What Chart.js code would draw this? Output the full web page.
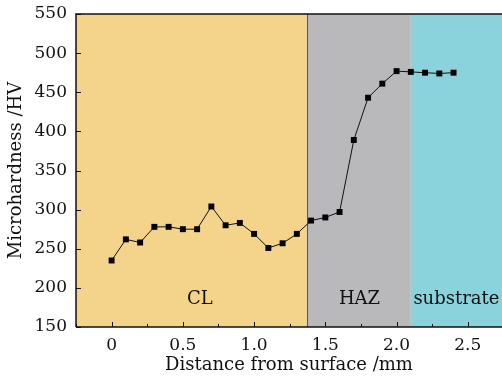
<!DOCTYPE html>
<html>
<head>
<meta charset="utf-8">
<script src="https://cdn.jsdelivr.net/npm/chart.js@4/dist/chart.umd.min.js"></script>
<style>
html,body{margin:0;padding:0;background:#fff;}
#wrap{width:502px;height:376px;position:relative;}
</style>
</head>
<body>
<div id="wrap"><canvas id="c" width="502" height="376"></canvas></div>
<script>
const distances = [0,0.1,0.2,0.3,0.4,0.5,0.6,0.7,0.8,0.9,1.0,1.1,1.2,1.3,1.4,1.5,1.6,1.7,1.8,1.9,2.0,2.1,2.2,2.3,2.4];
const hardness = [235,262,258,278,278,275,275,304,280,283,269,251,257,269,286,290,297,389,443,461,477,476,475,474,475];
const xTickValues = [0,0.5,1.0,1.5,2.0,2.5];
const xTickLabels = ['0','0.5','1.0','1.5','2.0','2.5'];
const xMinorTicks = [-0.25,0.25,0.75,1.25,1.75,2.25];
const yTickValues = [150,200,250,300,350,400,450,500,550];
const regionNames = ['CL','HAZ','substrate'];
const regionStarts = [-0.25,1.37,2.1];
const regionEnds = [1.37,2.1,2.74];
const regionColors = ['#F4D38B','#B9B9BB','#8BD3DC'];
const regionLabelX = [0.62,1.74,2.42];
const regionLabelY = 185;

const FONT = "'DejaVu Serif', serif";

const regionPlugin = {
  id:'regions',
  beforeDatasetsDraw(chart){
    const {ctx, chartArea:a, scales:{x,y}} = chart;
    ctx.save();
    for(let i=0;i<regionNames.length;i++){
      const x0 = x.getPixelForValue(regionStarts[i]);
      const x1 = x.getPixelForValue(regionEnds[i]);
      ctx.fillStyle = regionColors[i];
      ctx.fillRect(x0, a.top, x1-x0, a.bottom-a.top);
    }
    const xb = Math.round(x.getPixelForValue(regionStarts[1]))+0.5;
    ctx.strokeStyle = '#555';
    ctx.lineWidth = 1;
    ctx.beginPath(); ctx.moveTo(xb,a.top); ctx.lineTo(xb,a.bottom); ctx.stroke();
    ctx.fillStyle = '#111';
    ctx.font = "18px " + FONT;
    ctx.textAlign='center'; ctx.textBaseline='middle';
    for(let i=0;i<regionNames.length;i++){
      ctx.fillText(regionNames[i], x.getPixelForValue(regionLabelX[i]), y.getPixelForValue(regionLabelY));
    }
    ctx.restore();
  },
  afterDraw(chart){
    const {ctx, chartArea:a, scales:{x,y}} = chart;
    ctx.save();
    ctx.strokeStyle='#111'; ctx.lineWidth=1.5;
    ctx.beginPath();
    ctx.moveTo(a.left, a.bottom); ctx.lineTo(a.left, a.top); ctx.lineTo(a.right, a.top);
    ctx.moveTo(a.left, a.bottom); ctx.lineTo(a.right, a.bottom);
    ctx.stroke();
    ctx.lineWidth=1;
    ctx.beginPath();
    for(const v of xTickValues){
      const px = Math.round(x.getPixelForValue(v))+0.5;
      ctx.moveTo(px,a.bottom); ctx.lineTo(px,a.bottom-5);
    }
    for(const v of xMinorTicks){
      const px = Math.round(x.getPixelForValue(v))+0.5;
      ctx.moveTo(px,a.bottom); ctx.lineTo(px,a.bottom-3);
    }
    for(const v of yTickValues){
      const py = Math.round(y.getPixelForValue(v))+0.5;
      ctx.moveTo(a.left,py); ctx.lineTo(a.left+5,py);
    }
    ctx.stroke();
    ctx.restore();
  }
};

new Chart(document.getElementById('c'), {
  type:'scatter',
  data:{
    datasets:[{
      data: distances.map((d,i)=>({x:d,y:hardness[i]})),
      showLine:true,
      borderColor:'#111',
      borderWidth:1,
      backgroundColor:'#000',
      pointStyle:'rect',
      pointRadius:4.2,
      pointBorderWidth:0,
      pointBorderColor:'#000'
    }]
  },
  options:{
    responsive:false,
    animation:false,
    devicePixelRatio:1,
    layout:{autoPadding:false,padding:{top:14,right:0,left:0,bottom:0}},
    plugins:{legend:{display:false},tooltip:{enabled:false}},
    scales:{
      x:{
        type:'linear',
        min:-0.25, max:2.74,
        afterBuildTicks(s){ s.ticks = xTickValues.map(v=>({value:v})); },
        afterFit(s){ s.height = 49; s.paddingLeft = 0; s.paddingRight = 0; },
        grid:{display:false, drawTicks:false},
        border:{display:false},
        ticks:{
          padding:8,
          color:'#111',
          font:{family:FONT,size:17},
          callback:(v)=>{ const i = xTickValues.indexOf(v); return i>=0 ? xTickLabels[i] : ''; }
        },
        title:{display:true,text:'Distance from surface /mm',color:'#111',font:{family:FONT,size:18},padding:{top:0,bottom:0}}
      },
      y:{
        min:150, max:550,
        afterBuildTicks(s){ s.ticks = yTickValues.map(v=>({value:v})); },
        afterFit(s){ s.width = 76; s.paddingTop = 0; s.paddingBottom = 0; },
        grid:{display:false, drawTicks:false},
        border:{display:false},
        ticks:{padding:9,color:'#111',font:{family:FONT,size:17}},
        title:{display:true,text:'Microhardness /HV',color:'#111',font:{family:FONT,size:18},padding:{top:6,bottom:0}}
      }
    }
  },
  plugins:[regionPlugin]
});
</script>
</body>
</html>
